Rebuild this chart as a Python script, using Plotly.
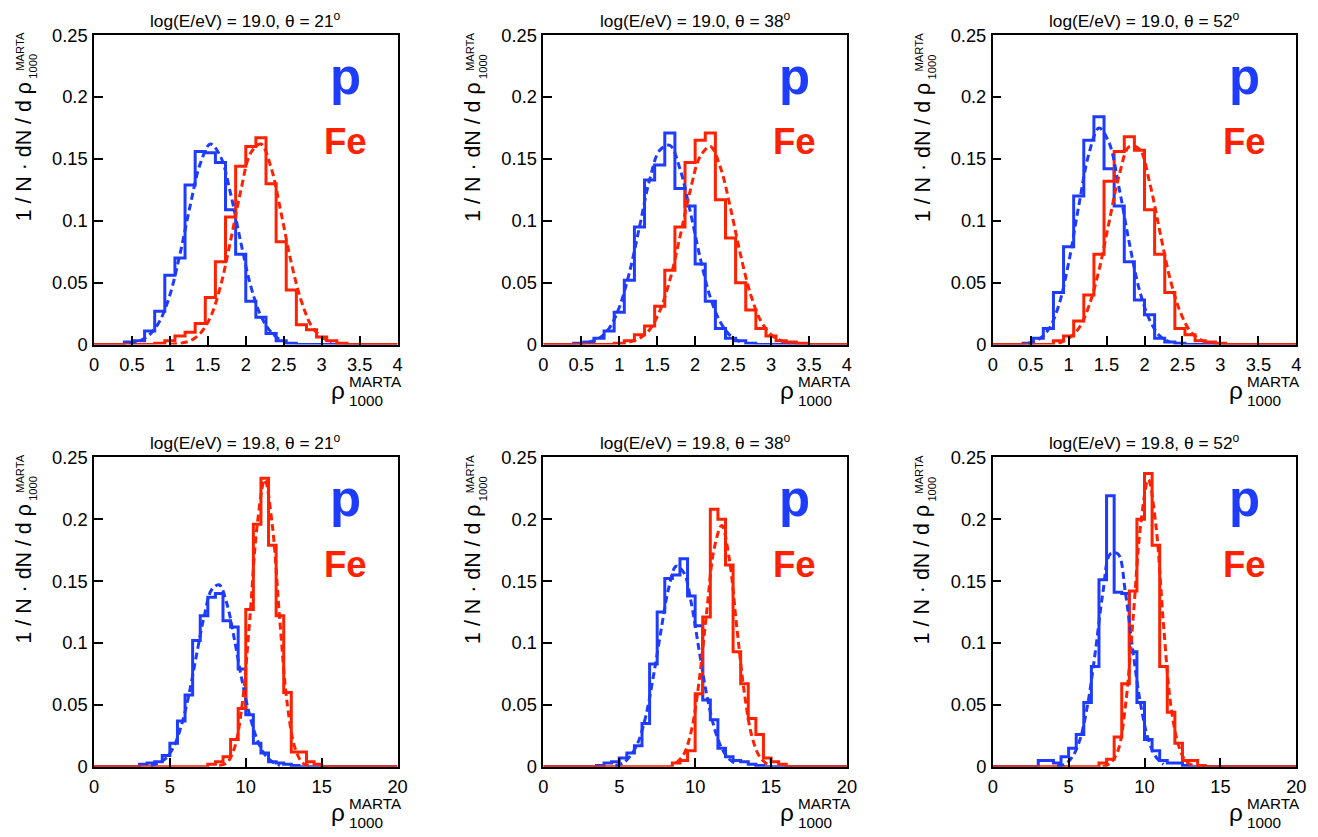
import numpy as np
import plotly.graph_objects as go

W, H = 1318, 837
FONT = "Liberation Sans, Arial, Helvetica, sans-serif"
BLUE = "#1e3cff"
RED = "#ff2200"

# ---------------- data ----------------
PANEL_TITLES = [
    "log(E/eV) = 19.0, θ = 21<sup>o</sup>",
    "log(E/eV) = 19.0, θ = 38<sup>o</sup>",
    "log(E/eV) = 19.0, θ = 52<sup>o</sup>",
    "log(E/eV) = 19.8, θ = 21<sup>o</sup>",
    "log(E/eV) = 19.8, θ = 38<sup>o</sup>",
    "log(E/eV) = 19.8, θ = 52<sup>o</sup>",
]
X_MAX = [4, 4, 4, 20, 20, 20]
N_BINS = [30, 30, 30, 40, 40, 40]

X_TICKS_TOP = [0, 0.5, 1, 1.5, 2, 2.5, 3, 3.5, 4]
X_TICK_LABELS_TOP = ["0", "0.5", "1", "1.5", "2", "2.5", "3", "3.5", "4"]
X_TICKS_BOTTOM = [0, 5, 10, 15, 20]
X_TICK_LABELS_BOTTOM = ["0", "5", "10", "15", "20"]
Y_TICKS = [0, 0.05, 0.1, 0.15, 0.2, 0.25]
Y_TICK_LABELS = ["0", "0.05", "0.1", "0.15", "0.2", "0.25"]

# histograms: first non-empty bin index and fraction per bin
P_HIST_START = [3, 3, 3, 6, 7, 6]
P_HIST = [
    [0.002, 0.003, 0.011, 0.027, 0.056, 0.070, 0.129, 0.156, 0.155, 0.147, 0.109, 0.073, 0.035, 0.022, 0.009, 0.003, 0.001],
    [0.001, 0.002, 0.005, 0.011, 0.026, 0.052, 0.095, 0.133, 0.145, 0.171, 0.126, 0.112, 0.065, 0.035, 0.013, 0.005, 0.003, 0.001],
    [0.001, 0.005, 0.013, 0.042, 0.079, 0.120, 0.165, 0.184, 0.142, 0.112, 0.067, 0.036, 0.024, 0.005, 0.002, 0.001],
    [0.002, 0.003, 0.004, 0.009, 0.019, 0.037, 0.058, 0.102, 0.122, 0.137, 0.140, 0.118, 0.113, 0.079, 0.042, 0.019, 0.011, 0.004, 0.003, 0.002, 0.001],
    [0.001, 0.003, 0.004, 0.007, 0.011, 0.017, 0.035, 0.083, 0.125, 0.152, 0.155, 0.168, 0.138, 0.114, 0.054, 0.038, 0.015, 0.008, 0.005, 0.004, 0.002, 0.001],
    [0.005, 0.005, 0.003, 0.008, 0.015, 0.026, 0.052, 0.081, 0.151, 0.219, 0.141, 0.140, 0.093, 0.052, 0.022, 0.013, 0.005, 0.003, 0.003, 0.001],
]
FE_HIST_START = [6, 7, 6, 15, 17, 14]
FE_HIST = [
    [0.001, 0.003, 0.007, 0.010, 0.017, 0.038, 0.067, 0.103, 0.144, 0.160, 0.167, 0.130, 0.083, 0.044, 0.016, 0.012, 0.006, 0.003, 0.001],
    [0.001, 0.003, 0.008, 0.015, 0.031, 0.060, 0.095, 0.147, 0.165, 0.171, 0.117, 0.086, 0.050, 0.028, 0.013, 0.007, 0.003, 0.002, 0.001],
    [0.003, 0.007, 0.019, 0.040, 0.073, 0.132, 0.156, 0.168, 0.157, 0.109, 0.073, 0.042, 0.013, 0.008, 0.003, 0.002, 0.001],
    [0.002, 0.004, 0.008, 0.022, 0.047, 0.127, 0.196, 0.233, 0.179, 0.122, 0.060, 0.012, 0.012, 0.004, 0.002],
    [0.003, 0.005, 0.013, 0.059, 0.121, 0.208, 0.200, 0.163, 0.093, 0.067, 0.039, 0.026, 0.007, 0.004, 0.002],
    [0.003, 0.006, 0.024, 0.067, 0.142, 0.200, 0.237, 0.179, 0.081, 0.044, 0.019, 0.005, 0.005, 0.001],
]

# dashed fit curves: values read at bin centres, starting at the given bin
P_FIT_START = [3, 4, 3, 7, 9, 8]
P_FIT = [
    [0.001, 0.003, 0.008, 0.019, 0.040, 0.073, 0.112, 0.146, 0.162, 0.152, 0.122, 0.083, 0.047, 0.023, 0.010, 0.003],
    [0.002, 0.005, 0.013, 0.030, 0.058, 0.095, 0.133, 0.157, 0.161, 0.142, 0.108, 0.070, 0.038, 0.018, 0.007, 0.002],
    [0.001, 0.004, 0.012, 0.031, 0.066, 0.112, 0.154, 0.175, 0.163, 0.126, 0.082, 0.044, 0.020, 0.007, 0.002],
    [0.001, 0.003, 0.007, 0.016, 0.033, 0.058, 0.090, 0.121, 0.143, 0.147, 0.132, 0.103, 0.070, 0.042, 0.022, 0.010, 0.004, 0.001],
    [0.001, 0.003, 0.009, 0.020, 0.041, 0.073, 0.110, 0.144, 0.162, 0.157, 0.132, 0.095, 0.059, 0.032, 0.015, 0.006, 0.002],
    [0.001, 0.002, 0.008, 0.022, 0.050, 0.092, 0.140, 0.172, 0.172, 0.140, 0.092, 0.050, 0.022, 0.008, 0.002],
]
FE_FIT_START = [7, 8, 6, 16, 17, 14]
FE_FIT = [
    [0.000, 0.001, 0.003, 0.009, 0.022, 0.047, 0.084, 0.124, 0.155, 0.162, 0.143, 0.106, 0.066, 0.035, 0.015, 0.006, 0.002],
    [0.002, 0.005, 0.012, 0.027, 0.052, 0.087, 0.124, 0.152, 0.160, 0.143, 0.110, 0.072, 0.040, 0.019, 0.008, 0.003, 0.001],
    [0.001, 0.005, 0.013, 0.031, 0.060, 0.099, 0.137, 0.160, 0.158, 0.131, 0.092, 0.054, 0.027, 0.011, 0.004, 0.001],
    [0.001, 0.003, 0.015, 0.049, 0.117, 0.195, 0.232, 0.195, 0.117, 0.049, 0.015, 0.003, 0.001],
    [0.003, 0.010, 0.029, 0.068, 0.124, 0.176, 0.195, 0.168, 0.112, 0.059, 0.024, 0.008, 0.002],
    [0.000, 0.003, 0.013, 0.050, 0.120, 0.196, 0.232, 0.195, 0.115, 0.048, 0.017, 0.004, 0.001],
]

# ---------------- layout geometry (target pixels in the picture) ----------------
COL_LEFT = [93, 543, 993]
ROW_TOP = [33, 456]
PLOT_W = 304
PLOT_H = 310

# the captured page is slightly rescaled; map target picture pixels to figure pixels
SX, OX = 0.990, 3.9
SY, OY = 0.9768, 8.8
FS = 1.0 / 0.983


def fx(x):
    return ((x - OX) / SX) / W


def fy(y):
    return 1 - ((y - OY) / SY) / H


def fsz(s):
    return round(s * FS, 1)


fig = go.Figure()
annotations = []
layout_axes = {}


def ann(text, x, y, size, color="black", xanchor="center", yanchor="middle",
        angle=0, bold=False):
    annotations.append(dict(
        text=text, x=fx(x), y=fy(y), xref="paper", yref="paper",
        xanchor=xanchor, yanchor=yanchor, textangle=angle, showarrow=False,
        borderpad=0,
        font=dict(family=FONT, size=fsz(size), color=color,
                  weight="bold" if bold else "normal")))


for i in range(6):
    r, c = divmod(i, 3)
    L = COL_LEFT[c]
    T = ROW_TOP[r]
    R = L + PLOT_W
    B = T + PLOT_H
    sfx = "" if i == 0 else str(i + 1)
    xa, ya = "x" + sfx, "y" + sfx

    nb = N_BINS[i]
    edges = np.linspace(0, X_MAX[i], nb + 1)
    centers = 0.5 * (edges[:-1] + edges[1:])

    def full_hist(start, vals):
        h = np.zeros(nb)
        h[start:start + len(vals)] = vals
        return list(h) + [h[-1]]

    for start, vals, col in [(P_HIST_START[i], P_HIST[i], BLUE),
                             (FE_HIST_START[i], FE_HIST[i], RED)]:
        fig.add_trace(go.Scatter(
            x=edges, y=full_hist(start, vals), mode="lines",
            line=dict(color=col, width=3, shape="hv"),
            xaxis=xa, yaxis=ya, showlegend=False, hoverinfo="skip"))
    for start, vals, col in [(P_FIT_START[i], P_FIT[i], BLUE),
                             (FE_FIT_START[i], FE_FIT[i], RED)]:
        fig.add_trace(go.Scatter(
            x=centers[start:start + len(vals)], y=vals, mode="lines",
            line=dict(color=col, width=3, dash="7px,4px", shape="spline", smoothing=1.0),
            xaxis=xa, yaxis=ya, showlegend=False, hoverinfo="skip"))

    top = r == 0
    axis_common = dict(
        showline=True, linecolor="black", linewidth=1.5, mirror=True,
        ticks="inside", ticklen=9, tickwidth=1.5, tickcolor="black",
        showgrid=False, zeroline=False,
        tickfont=dict(family=FONT, size=fsz(18), color="black"),
    )
    layout_axes["xaxis" + sfx] = dict(
        axis_common, domain=[fx(L), fx(R)], anchor=ya,
        range=[0, X_MAX[i]],
        tickvals=X_TICKS_TOP if top else X_TICKS_BOTTOM,
        ticktext=X_TICK_LABELS_TOP if top else X_TICK_LABELS_BOTTOM,
        ticklabelstandoff=3,
    )
    layout_axes["yaxis" + sfx] = dict(
        axis_common, domain=[fy(B), fy(T)], anchor=xa,
        range=[0, 0.25], tickvals=Y_TICKS, ticktext=Y_TICK_LABELS,
        ticklabelstandoff=1,
    )

    # panel title
    ann(PANEL_TITLES[i], (L + R) / 2, T - 15, 17)
    # p / Fe labels
    ann("p", R - 52, T + 41, 50, color=BLUE, bold=True)
    ann("Fe", R - 52, T + 107, 36, color=RED, bold=True)
    # x-axis title: rho with stacked MARTA / 1000
    ann("ρ", R - 52, B + 46, 24, xanchor="right")
    ann("MARTA", R - 50, B + 37, 15, xanchor="left")
    ann("1000", R - 50, B + 56, 15, xanchor="left")
    # y-axis title (rotated)
    ann("1 / N · dN / d ρ", L - 70, T + 188, 21, yanchor="bottom", angle=-90)
    ann("MARTA", L - 74, T - 4, 11, yanchor="top", angle=-90)
    ann("1000", L - 61, T + 18, 11, yanchor="top", angle=-90)

fig.update_layout(
    width=W, height=H, autosize=False,
    margin=dict(l=0, r=0, t=0, b=0),
    paper_bgcolor="white", plot_bgcolor="white",
    showlegend=False,
    annotations=annotations,
    **layout_axes,
)

fig.write_html(
    "out.html",
    config={"displayModeBar": False},
    post_script="document.body.style.margin='0';document.body.style.padding='0';"
                "document.body.style.overflow='hidden';",
)
